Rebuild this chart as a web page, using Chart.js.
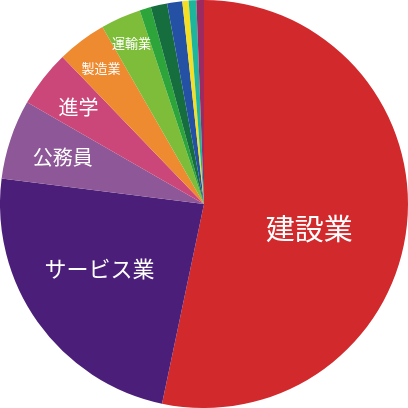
<!DOCTYPE html>
<html>
<head>
<meta charset="utf-8">
<script src="https://cdn.jsdelivr.net/npm/chart.js@4"></script>
<style>
  html, body { margin: 0; padding: 0; background: #fff; }
  #wrap { width: 408px; height: 408px; }
</style>
</head>
<body>
<div id="wrap"><canvas id="pie" width="408" height="408"></canvas></div>
<script>
const categories = ['建設業', 'サービス業', '公務員', '進学', '製造業', '運輸業', 'その他1', 'その他2', 'その他3', 'その他4', 'その他5', 'その他6'];
const shares = [53.3, 23.7, 6.3, 4.5, 3.9, 3.2, 0.9, 1.3, 1.2, 0.5, 0.6, 0.6];
const shownLabels = ['建設業', 'サービス業', '公務員', '進学', '製造業', '運輸業'];

const colors = ['#d2292c', '#4b1f79', '#8e5797', '#cb4679', '#ee8a2f', '#7dbd3a', '#2ea53a', '#166e3f', '#2451a4', '#f5df25', '#1db59b', '#9e2a62'];
// label styling: font size, how far out along the radius, small turn off the slice middle (deg)
const labelSize = [29, 22, 20, 20, 13, 13];
const labelPos = [0.53, 0.6, 0.73, 0.78, 0.84, 0.87];
const labelTurn = [7, 4, 0, 0, 0, 0];

const sliceLabels = {
  id: 'sliceLabels',
  afterDatasetsDraw(chart) {
    const ctx = chart.ctx;
    const arcs = chart.getDatasetMeta(0).data;
    ctx.save();
    ctx.fillStyle = '#fff';
    ctx.textAlign = 'center';
    ctx.textBaseline = 'middle';
    shownLabels.forEach((name, i) => {
      const arc = arcs[categories.indexOf(name)];
      const mid = (arc.startAngle + arc.endAngle) / 2 + labelTurn[i] * Math.PI / 180;
      const r = arc.outerRadius * labelPos[i];
      ctx.font = labelSize[i] + 'px "Noto Sans CJK JP", sans-serif';
      ctx.fillText(name, arc.x + Math.cos(mid) * r, arc.y + Math.sin(mid) * r + 1);
    });
    ctx.restore();
  }
};

new Chart(document.getElementById('pie'), {
  type: 'pie',
  data: {
    labels: categories,
    datasets: [{
      data: shares,
      backgroundColor: colors,
      borderWidth: 0
    }]
  },
  options: {
    responsive: false,
    animation: false,
    layout: { padding: 0 },
    plugins: {
      legend: { display: false },
      tooltip: { enabled: false }
    }
  },
  plugins: [sliceLabels]
});
</script>
</body>
</html>
